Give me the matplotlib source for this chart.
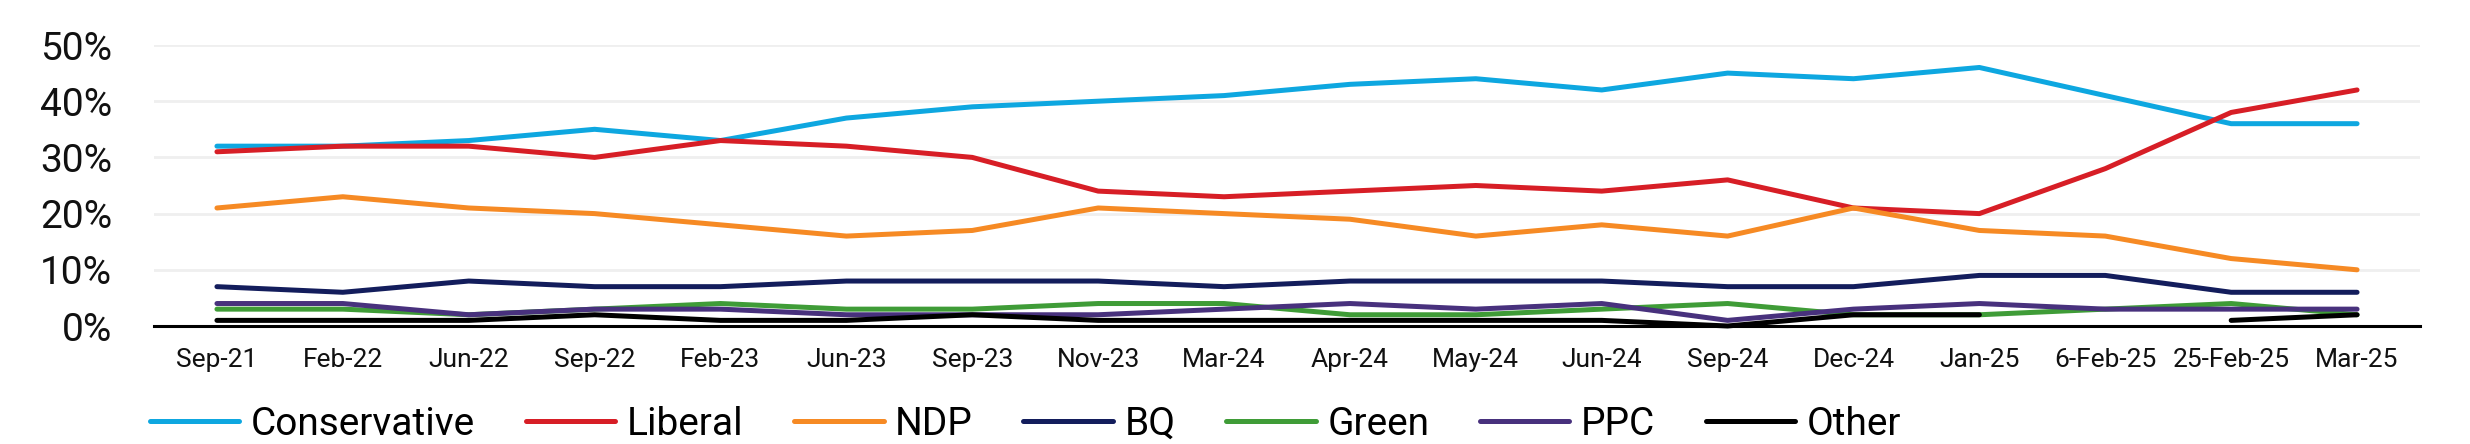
import numpy as np
import matplotlib
matplotlib.use("Agg")
import matplotlib.pyplot as plt
from matplotlib.ticker import PercentFormatter

# dates of polls
dates = ["Sep-21", "Feb-22", "Jun-22", "Sep-22", "Feb-23", "Jun-23", "Sep-23", "Nov-23",
         "Mar-24", "Apr-24", "May-24", "Jun-24", "Sep-24", "Dec-24", "Jan-25",
         "6-Feb-25", "25-Feb-25", "Mar-25"]

# vote share (%)
conservative = [32, 32, 33, 35, 33, 37, 39, 40, 41, 43, 44, 42, 45, 44, 46, 41, 36, 36]
liberal      = [31, 32, 32, 30, 33, 32, 30, 24, 23, 24, 25, 24, 26, 21, 20, 28, 38, 42]
ndp          = [21, 23, 21, 20, 18, 16, 17, 21, 20, 19, 16, 18, 16, 21, 17, 16, 12, 10]
bq           = [7, 6, 8, 7, 7, 8, 8, 8, 7, 8, 8, 8, 7, 7, 9, 9, 6, 6]
green        = [3, 3, 2, 3, 4, 3, 3, 4, 4, 2, 2, 3, 4, 2, 2, 3, 4, 2]
ppc          = [4, 4, 2, 3, 3, 2, 2, 2, 3, 4, 3, 4, 1, 3, 4, 3, 3, 3]
other        = [1, 1, 1, 2, 1, 1, 2, 1, 1, 1, 1, 1, 0, 2, 2, np.nan, 1, 2]

parties = ["Conservative", "Liberal", "NDP", "BQ", "Green", "PPC", "Other"]
series = [conservative, liberal, ndp, bq, green, ppc, other]
colors = ["#0EA7E0", "#D71E26", "#F68A24", "#131D5C", "#3F9C37", "#48317D", "#000000"]

plt.rcParams["font.family"] = ["Roboto", "DejaVu Sans"]

fig = plt.figure(figsize=(24.7, 4.44), dpi=100)
ax = fig.add_axes([154 / 2470, 1 - 326 / 444, (2420 - 154) / 2470, (326 - 45) / 444])

x = np.arange(len(dates))
for name, vals, col in zip(parties, series, colors):
    ax.plot(x, vals, color=col, lw=3.6, label=name,
            solid_capstyle="round", solid_joinstyle="round", clip_on=False)

ax.set_xlim(-0.5, len(dates) - 0.5)
ax.set_ylim(0, 50)
ax.set_yticks([0, 10, 20, 30, 40, 50])
ax.yaxis.set_major_formatter(PercentFormatter(100, decimals=0))
ax.set_xticks(x)
ax.set_xticklabels(dates)

ax.grid(axis="y", color="#EFEFEF", lw=2.0)
ax.set_axisbelow(True)
for s in ["top", "right", "left"]:
    ax.spines[s].set_visible(False)
ax.spines["bottom"].set_color("black")
ax.spines["bottom"].set_linewidth(2.2)
ax.spines["bottom"].set_zorder(1)

ax.tick_params(axis="y", length=0, pad=30, labelsize=28, labelcolor="#111111")
ax.tick_params(axis="x", length=0, pad=16, labelsize=19, labelcolor="#111111")

fig.legend(loc="center left", bbox_to_anchor=(150 / 2470, 0.045), ncol=7,
           frameon=False, fontsize=28, handlelength=2.3, handletextpad=0.3,
           columnspacing=1.3, borderpad=0, borderaxespad=0)

fig.savefig("out.png", dpi=100)
